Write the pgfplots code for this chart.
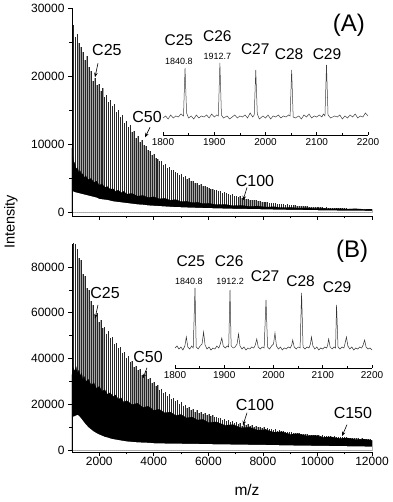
\documentclass[border=0pt]{standalone}
\usepackage{fontspec}
\setmainfont{Liberation Sans}
\usepackage{pgfplots}
\usepackage{pgfplotstable}
\usetikzlibrary{arrows.meta}
\pgfplotsset{compat=1.18}

% peak series (repeat 72), a = panel A, b = panel B
\pgfplotstableread{
x a b
1048.8 27500 96000
1120.8 25800 90000
1192.8 26200 88000
1264.8 24800 84000
1336.8 24300 83000
1408.8 23600 77000
1480.8 22400 76000
1552.8 22900 71000
1624.8 21300 70000
1696.8 20800 65000
1768.8 19300 63500
1840.8 19700 58000
1912.8 18700 60000
1984.8 18900 56000
2056.8 17800 57000
2128.8 18200 53500
2200.8 16900 54000
2272.8 17300 51000
2344.8 16200 52000
2416.8 16500 49000
2488.8 15600 49500
2560.8 15900 46500
2632.8 14800 47000
2704.8 15100 44500
2776.8 14000 45000
2848.8 14300 42500
2920.8 13200 43000
2992.8 13500 40500
3064.8 12500 41000
3136.8 12800 38500
3208.8 11800 39000
3280.8 12000 36500
3352.8 11000 37000
3424.8 11300 35000
3496.8 10400 35500
3568.8 10600 33000
3640.8 9900 32000
3712.8 9700 34500
3784.8 9200 31000
3856.8 9000 31500
3928.8 8500 29500
4000.8 8600 30000
4072.8 8000 28000
4144.8 7900 28500
4216.8 7500 26500
4288.8 7600 27000
4360.8 7000 25000
4432.8 7100 25500
4504.8 6600 24000
4576.8 6700 24500
4648.8 6200 22500
4720.8 6300 23000
4792.8 5900 21500
4864.8 5800 22000
4936.8 5500 20500
5008.8 5600 21000
5080.8 5200 19500
5152.8 5300 20000
5224.8 4900 18500
5296.8 5000 19000
5368.8 4600 17800
5440.8 4700 18200
5512.8 4400 17000
5584.8 4300 17500
5656.8 4100 16500
5728.8 4200 17000
5800.8 3900 16000
5872.8 3900 16300
5944.8 3700 15500
6016.8 3600 15800
6088.8 3500 15000
6160.8 3500 15300
6232.8 3300 14500
6304.8 3300 14800
6376.8 3100 14000
6448.8 3100 14300
6520.8 2900 13500
6592.8 3000 13800
6664.8 2800 13000
6736.8 2700 13300
6808.8 2600 12600
6880.8 2700 12900
6952.8 2500 12200
7024.8 2400 12500
7096.8 2300 11800
7168.8 2400 12100
7240.8 2100 10600
7312.8 2200 11600
7384.8 2000 11200
7456.8 2000 11400
7528.8 1900 10800
7600.8 1900 11000
7672.8 1800 10500
7744.8 1800 10700
7816.8 1700 10200
7888.8 1700 10400
7960.8 1600 9900
8032.8 1600 10100
8104.8 1500 9600
8176.8 1550 9800
8248.8 1450 9300
8320.8 1450 9500
8392.8 1350 9000
8464.8 1400 9200
8536.8 1300 8700
8608.8 1300 8900
8680.8 1250 8400
8752.8 1200 8600
8824.8 1150 8100
8896.8 1200 8300
8968.8 1100 7900
9040.8 1100 8000
9112.8 1050 7700
9184.8 1050 7800
9256.8 1000 7500
9328.8 1000 7600
9400.8 950 7300
9472.8 950 7400
9544.8 900 7100
9616.8 920 7200
9688.8 870 6900
9760.8 880 7000
9832.8 840 6800
9904.8 850 6900
9976.8 800 6600
10048.8 810 6700
10120.8 770 6500
10192.8 780 6600
10264.8 740 6400
10336.8 750 6500
10408.8 710 6200
10480.8 720 6300
10552.8 680 6100
10624.8 690 6200
10696.8 650 6000
10768.8 660 6100
10840.8 630 5900
10912.8 630 6000
10984.8 600 5800
11056.8 610 5900
11128.8 580 5600
11200.8 580 5700
11272.8 550 5500
11344.8 560 5600
11416.8 530 5300
11488.8 530 5400
11560.8 510 5200
11632.8 510 5300
11704.8 490 5000
11776.8 490 5100
11848.8 470 4900
11920.8 470 5000
11992.8 450 4800
}\peaks

% dense black band: upper (u) and lower (l) edges
\pgfplotstableread{
x au al bu bl
1000 9500 3200 33000 14500
1050 7600 3100 36000 14800
1100 7200 3000 34500 15000
1150 6400 2950 36500 15300
1200 6600 2900 33500 15500
1250 5900 2850 35000 15200
1300 6100 2800 32500 14500
1350 5500 2750 33800 13800
1400 5700 2700 31000 13000
1450 5100 2650 32200 12200
1500 5400 2600 30000 11500
1600 4800 2500 31000 10200
1700 5000 2400 28500 9200
1800 4400 2300 29500 8300
1900 4600 2200 27000 7600
2000 4000 2000 28000 7000
2100 4200 1950 25800 6500
2200 3700 1900 26500 6000
2300 3800 1850 24500 5700
2400 3400 1750 25200 5300
2500 3500 1650 23500 5000
2600 3100 1600 24200 4800
2700 3300 1550 22300 4600
2800 2900 1500 23000 4400
2900 3100 1450 21000 4200
3000 2700 1400 21800 4000
3200 2800 1300 20000 3800
3400 2400 1200 20600 3600
3600 2500 1150 18800 3500
3800 2200 1050 19300 3400
4000 2300 1000 17500 3200
4200 2000 950 18000 3150
4400 2100 900 16400 3100
4600 1800 850 16800 3050
4800 1900 800 15300 3000
5000 1600 780 15700 3000
5200 1650 750 14200 2950
5400 1450 720 14600 2900
5600 1500 700 13300 2900
5800 1300 670 13600 2850
6000 1350 650 12200 2800
6300 1150 620 12500 2750
6600 1200 590 11000 2700
6900 1000 560 11300 2650
7200 1050 540 9900 2600
7500 900 520 10200 2550
7800 950 500 8900 2500
8100 800 470 9100 2450
8400 850 450 8000 2400
8700 720 430 8200 2300
9000 760 400 7100 2250
9300 660 390 7300 2200
9600 700 370 6400 2150
9900 600 350 6600 2100
10200 640 330 5800 2050
10500 560 320 6000 2000
10800 590 300 5300 1950
11100 520 290 5500 1900
11400 550 280 4800 1850
11700 480 270 5000 1800
12000 500 260 4400 1750
}\band

% inset A trace
\pgfplotstableread{
x y
1800 17
1805 19
1810 16
1815 20
1820 17
1825 19
1830 18
1835 21
1840 19
1843 67
1846 22
1850 17
1855 19
1860 16
1865 20
1870 17
1875 19
1880 18
1885 20
1890 17
1895 21
1900 18
1905 20
1908 19
1911 72
1914 20
1918 17
1925 19
1930 16
1935 18
1940 20
1945 17
1950 19
1955 18
1960 20
1965 17
1970 22
1975 18
1978 20
1981 65
1984 21
1988 16
1995 19
2000 17
2005 20
2010 16
2015 19
2020 18
2025 20
2030 17
2035 19
2040 18
2045 20
2048 19
2051 65
2054 18
2058 17
2065 19
2070 16
2075 20
2080 18
2085 21
2090 17
2095 19
2100 18
2105 20
2110 18
2113 21
2116 19
2119 70
2122 20
2127 17
2135 19
2140 18
2145 20
2150 16
2155 19
2160 17
2165 20
2170 18
2175 21
2180 17
2185 19
2190 18
2195 22
2200 19
}\insetA

% inset B trace
\pgfplotstableread{
x y
1800 20
1804 22
1808 19
1812 21
1816 18
1820 22
1823 31
1826 21
1830 19
1834 22
1837 20
1840.6 80
1843 21
1847 19
1851 22
1855 24
1858 36
1861 23
1865 19
1869 21
1873 18
1877 20
1881 19
1885 22
1889 20
1892 24
1895 30
1898 22
1902 20
1906 22
1909 21
1911.7 78
1914 22
1918 20
1922 21
1926 24
1929 34
1932 22
1936 19
1940 21
1944 18
1948 20
1952 19
1956 21
1960 20
1963 23
1966 29
1969 21
1973 19
1977 21
1981 20
1984.8 68
1988 21
1992 19
1996 22
2000 24
2003 35
2006 22
2010 19
2014 21
2018 18
2022 20
2026 19
2030 21
2034 20
2037 23
2039 28
2042 21
2046 19
2050 21
2054 20
2057 75
2060 21
2064 19
2068 21
2072 20
2075 24
2077 31
2080 22
2084 19
2088 21
2092 18
2096 20
2100 19
2104 21
2108 20
2110 23
2112 29
2115 21
2119 19
2123 21
2126 20
2128 63
2131 21
2135 19
2139 21
2143 20
2145 24
2148 31
2151 22
2155 19
2159 21
2163 18
2167 20
2171 19
2175 21
2179 20
2182 23
2185 28
2188 21
2192 19
2196 20
2200 18
}\insetB

\tikzset{
  clab/.style={font=\fontsize{16}{18}\selectfont, inner sep=0pt},
  ilab/.style={font=\fontsize{15.5}{17}\selectfont, inner sep=0pt},
  mlab/.style={font=\fontsize{9}{10}\selectfont, inner sep=0pt},
  arr/.style={-{Stealth[length=4.5pt,width=3.5pt]}, line width=0.6pt},
}
\pgfplotsset{
  mainax/.style={
    scale only axis, width=300pt, height=208pt,
    xmin=1000, xmax=12000, clip mode=individual,
    axis x line*=bottom, axis y line*=left, axis on top,
    axis line style={line width=0.8pt},
    tick style={line width=0.8pt, black},
    tick align=outside, major tick length=4pt, minor tick length=2.5pt,
    xtick={2000,4000,...,12000}, minor x tick num=1, minor y tick num=1,
    scaled ticks=false,
    /pgf/number format/1000 sep={},
    /pgf/number format/assume math mode=true,
    every tick label/.append style={font=\fontsize{12}{14}\selectfont},
    xticklabel style={yshift=2pt},
  },
  insetax/.style={
    scale only axis, clip=false,
    xmin=1800, xmax=2200, ymin=0,
    axis x line*=bottom, axis y line=none,
    axis line style={line width=0.6pt},
    tick style={line width=0.6pt, black},
    tick align=inside, major tick length=3pt, minor tick length=2pt,
    xtick={1800,1900,...,2200}, minor x tick num=1,
    /pgf/number format/1000 sep={},
    /pgf/number format/assume math mode=true,
    every tick label/.append style={font=\fontsize{10}{12}\selectfont},
  },
  halo/.style={ycomb, draw=black!35, line width=1.5pt, mark=none},
  core/.style={ycomb, draw=black!85, line width=0.6pt, mark=none},
}

\begin{document}
\begin{tikzpicture}
\useasboundingbox (-72pt,-50pt) rectangle (320pt,452pt);

% ---------- panel A ----------
\begin{axis}[mainax, at={(0pt,236pt)}, anchor=south west,
  ymin=-500, ymax=30000, ytick={0,10000,20000,30000}, xticklabels={}]
  \addplot[halo] table[x=x, y=a] {\peaks};
  \addplot[core] table[x=x, y=a] {\peaks};
  \addplot[fill=black, draw=black, line width=0.3pt] table[x=x, y=au] {\band} \closedcycle;
  \addplot[fill=white, draw=none] table[x=x, y=al] {\band} \closedcycle;
  \node[clab] at (axis cs:2280,23800) {C25};
  \draw[arr] (axis cs:1953,21900) -- (axis cs:1843,19850);
  \node[clab] at (axis cs:3750,13970) {C50};
  \draw[arr] (axis cs:3860,12500) -- (axis cs:3677,11030);
  \node[clab] at (axis cs:7710,4700) {C100};
  \draw[arr] (axis cs:7417,3676) -- (axis cs:7270,1800);
  \node[font=\fontsize{24}{26}\selectfont, inner sep=0pt] at (axis cs:11150,27400) {(A)};
\end{axis}

\begin{axis}[insetax, at={(91pt,317pt)}, anchor=south west,
  width=205pt, height=110pt, ymax=110]
  \addplot[black!75, line width=0.5pt, mark=none] table {\insetA};
  \node[ilab] at (axis cs:1831,95) {C25};
  \node[mlab] at (axis cs:1831,74) {1840.8};
  \node[ilab] at (axis cs:1906,99) {C26};
  \node[mlab] at (axis cs:1906,79) {1912.7};
  \node[ilab] at (axis cs:1980,86) {C27};
  \node[ilab] at (axis cs:2046,81) {C28};
  \node[ilab] at (axis cs:2120,81) {C29};
\end{axis}

% ---------- panel B ----------
\begin{axis}[mainax, at={(0pt,0pt)}, anchor=south west,
  ymin=-600, ymax=90000, ytick={0,20000,...,80000}]
  \addplot[halo] table[x=x, y=b] {\peaks};
  \addplot[core] table[x=x, y=b] {\peaks};
  \addplot[fill=black, draw=black, line width=0.3pt] table[x=x, y=bu] {\band} \closedcycle;
  \addplot[fill=white, draw=none] table[x=x, y=bl] {\band} \closedcycle;
  \node[clab] at (axis cs:2210,68700) {C25};
  \draw[arr] (axis cs:1953,63480) -- (axis cs:1843,57500);
  \node[clab] at (axis cs:3787,40870) {C50};
  \draw[arr] (axis cs:3750,36090) -- (axis cs:3600,31500);
  \node[clab] at (axis cs:7710,20000) {C100};
  \draw[arr] (axis cs:7417,16520) -- (axis cs:7270,11000);
  \node[clab] at (axis cs:11300,16520) {C150};
  \draw[arr] (axis cs:11083,11300) -- (axis cs:10900,6300);
  \node[font=\fontsize{24}{26}\selectfont, inner sep=0pt] at (axis cs:11270,87000) {(B)};
\end{axis}

\begin{axis}[insetax, at={(103pt,84pt)}, anchor=south west,
  width=197pt, height=110pt, ymax=110]
  \addplot[black!80, line width=0.5pt, mark=none] table {\insetB};
  \node[ilab] at (axis cs:1832,107) {C25};
  \node[mlab] at (axis cs:1828,87) {1840.8};
  \node[ilab] at (axis cs:1910,107) {C26};
  \node[mlab] at (axis cs:1912,87) {1912.2};
  \node[ilab] at (axis cs:1983,92) {C27};
  \node[ilab] at (axis cs:2055,87) {C28};
  \node[ilab] at (axis cs:2129,81) {C29};
\end{axis}

% shared axis titles
\node[rotate=90, font=\fontsize{14.5}{16}\selectfont] at (-61pt,230pt) {Intensity};
\node[font=\fontsize{15.5}{17}\selectfont] at (175pt,-38pt) {m/z};
\end{tikzpicture}
\end{document}
